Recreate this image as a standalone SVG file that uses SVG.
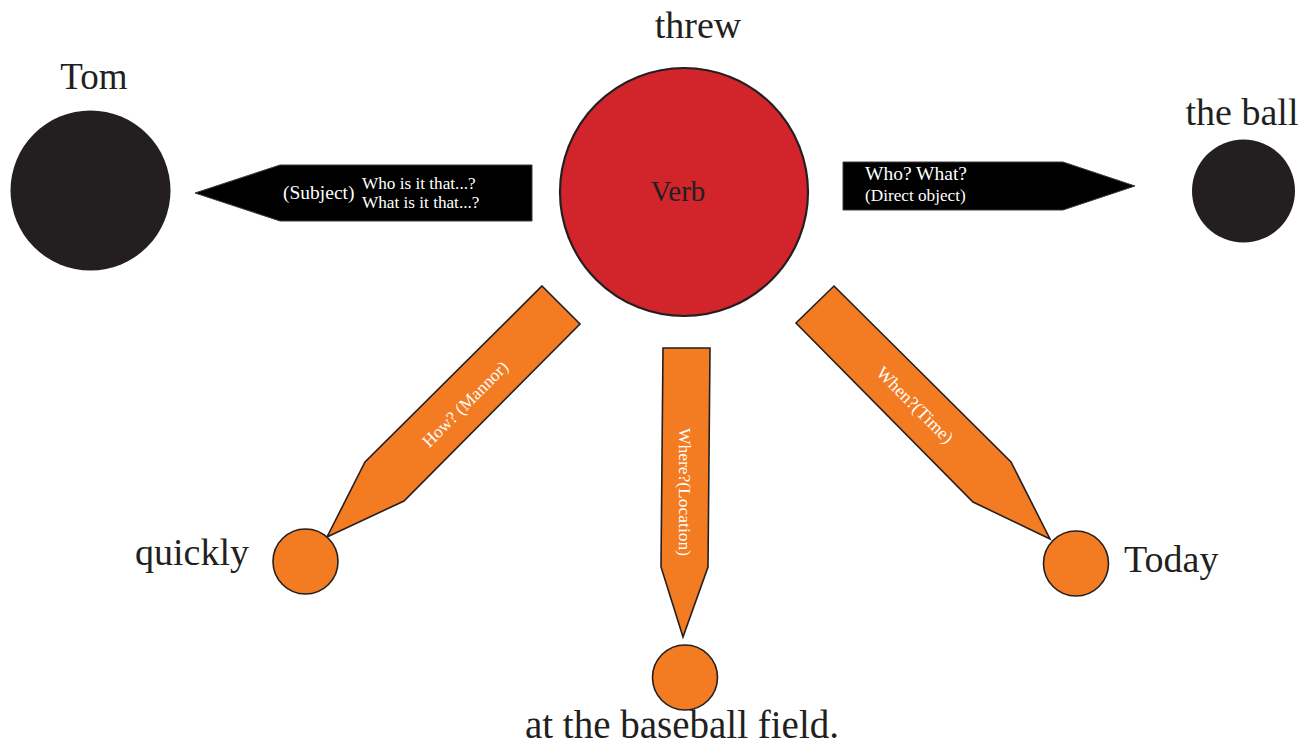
<svg xmlns="http://www.w3.org/2000/svg" width="1313" height="747" viewBox="0 0 1313 747">
<style>
.lbl{font-family:"Liberation Serif","Times New Roman",serif;fill:#231f20}
.in{font-family:"Liberation Serif","Times New Roman",serif;fill:#ffffff}
.dark{fill:#231f20}
.orange{fill:#f37b22;stroke:#231f20;stroke-width:1.6}
.black{fill:#000000;stroke:#3a3a3a;stroke-width:1}
</style>
<rect width="1313" height="747" fill="#ffffff"/>
<g id="connectors">
  <g id="subject-arrow">
    <polygon class="black" points="532,165 280,165 195,193 280,221 532,221"/>
    <text class="in" x="283" y="199" font-size="19.5">(Subject)</text>
    <text class="in" x="362" y="189" font-size="17.2">Who is it that...?</text>
    <text class="in" x="362" y="208" font-size="17.2">What is it that...?</text>
  </g>
  <g id="object-arrow">
    <polygon class="black" points="843,162 1063,162 1135,186 1063,210 843,210"/>
    <text class="in" x="865" y="180" font-size="19.5">Who? What?</text>
    <text class="in" x="865" y="201" font-size="17.2">(Direct object)</text>
  </g>
  <g id="manner-arrow">
    <polygon class="orange" points="542,286 580,324 404,501 327,537 365,462"/>
    <text class="in" font-size="17.5" text-anchor="middle" transform="translate(465,404) rotate(-45)" y="6">How? (Mannor)</text>
  </g>
  <g id="location-arrow">
    <polygon class="orange" points="663,348 710,348 708,567 683,637 661,567"/>
    <text class="in" font-size="17.5" text-anchor="middle" transform="translate(685,492) rotate(90)" y="6">Where?(Location)</text>
  </g>
  <g id="time-arrow">
    <polygon class="orange" points="834,286 1011,462 1050,539 973,502 796,323"/>
    <text class="in" font-size="18" text-anchor="middle" transform="translate(915,405) rotate(45)" y="6">When?(Time)</text>
  </g>
</g>
<g id="node-verb">
  <circle cx="684" cy="192" r="124" fill="#d1242b" stroke="#231f20" stroke-width="2.2"/>
  <text class="lbl" x="678" y="201" font-size="29" text-anchor="middle">Verb</text>
  <text class="lbl" x="698" y="38" font-size="38" text-anchor="middle">threw</text>
</g>
<g id="node-tom">
  <circle class="dark" cx="90.5" cy="190.5" r="80"/>
  <text class="lbl" x="94" y="89" font-size="37" text-anchor="middle">Tom</text>
</g>
<g id="node-ball">
  <circle class="dark" cx="1243.5" cy="191" r="51.5"/>
  <text class="lbl" x="1242" y="125" font-size="38" text-anchor="middle">the ball</text>
</g>
<g id="node-quickly">
  <circle class="orange" cx="305.5" cy="561.5" r="32.5"/>
  <text class="lbl" x="135" y="565" font-size="38">quickly</text>
</g>
<g id="node-location">
  <circle class="orange" cx="685" cy="677.5" r="32.5"/>
  <text class="lbl" x="682" y="738" font-size="39" text-anchor="middle">at the baseball field.</text>
</g>
<g id="node-today">
  <circle class="orange" cx="1076" cy="563.5" r="32.5"/>
  <text class="lbl" x="1124" y="572" font-size="38">Today</text>
</g>
</svg>
